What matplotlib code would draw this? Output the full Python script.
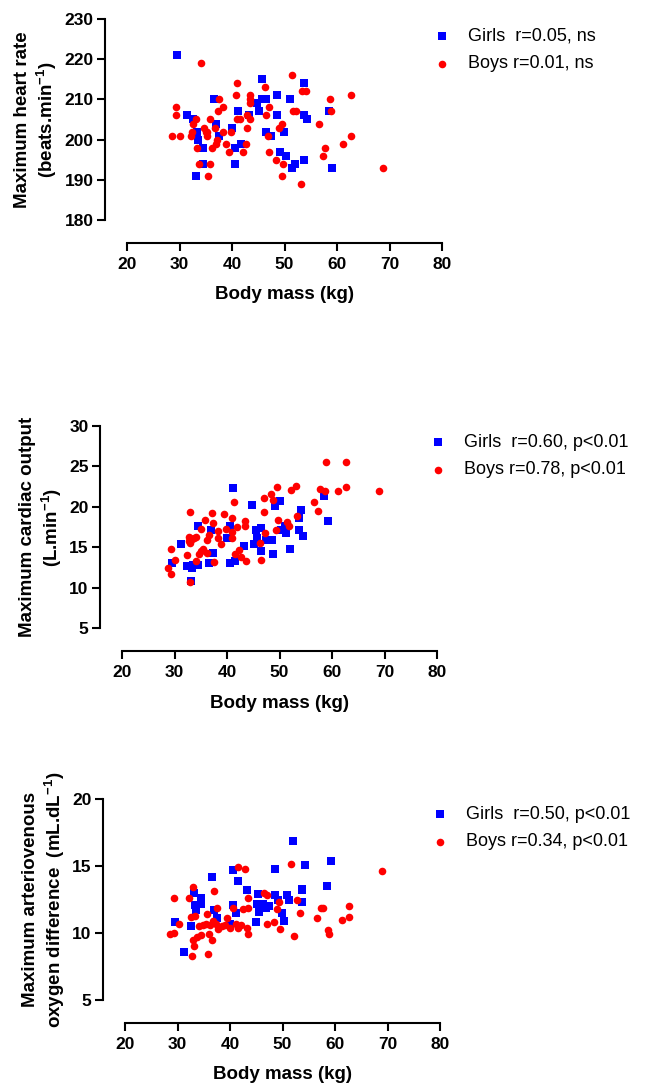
import matplotlib
matplotlib.use('Agg')
import matplotlib.pyplot as plt

# fonts
plt.rcParams['font.family'] = ['Liberation Sans', 'DejaVu Sans']
plt.rcParams['mathtext.fontset'] = 'custom'
plt.rcParams['mathtext.rm'] = 'Liberation Sans:bold'
plt.rcParams['mathtext.bf'] = 'Liberation Sans:bold'

# ---- panel 1: maximum heart rate ----
hr_girls_mass = [29.5, 31.4, 32.5, 33.4, 33.5, 33.2, 34.5, 34.5, 36.5, 36.9, 37.5, 40.0, 40.5,
                 40.5, 41.2, 41.7, 43.3, 44.8, 45.2, 45.7, 45.8, 46.4, 46.5, 47.5, 48.6, 48.6,
                 49.2, 49.9, 50.3, 51.0, 51.4, 52.0, 53.7, 53.8, 53.7, 54.3, 58.4, 59.1]
hr_girls = [221, 206, 205, 202, 200, 191, 198, 194, 210, 204, 201, 203, 198,
            194, 207, 199, 206, 209, 207, 210, 215, 210, 202, 201, 211, 206,
            197, 202, 196, 210, 193, 194, 214, 206, 195, 205, 207, 193]
hr_boys_mass = [28.6, 29.4, 29.3, 30.1, 34.0, 33.1, 32.3, 32.2, 32.6, 33.4, 33.7, 34.6, 35.0,
                35.2, 35.3, 35.5, 35.9, 35.9, 36.2, 36.8, 36.9, 37.2, 37.4, 37.6, 38.2, 38.2,
                38.9, 39.4, 39.8, 40.7, 40.9, 40.9, 41.6, 42.1, 42.6, 42.8, 42.8, 43.4, 43.5,
                43.5, 43.5, 46.3, 46.4, 46.9, 47.0, 47.1, 48.3, 49.0, 49.5, 49.7, 49.6, 51.5,
                51.7, 52.2, 53.1, 53.4, 54.1, 56.5, 57.3, 57.7, 58.7, 58.8, 61.2, 62.7, 62.7,
                68.8]
hr_boys = [201, 208, 206, 201, 219, 205, 202, 201, 204, 198, 194, 203, 202,
           201, 202, 191, 205, 194, 198, 203, 199, 200, 207, 210, 208, 202,
           199, 197, 202, 211, 214, 205, 205, 197, 199, 203, 206, 205, 211,
           210, 209, 213, 206, 201, 197, 208, 195, 203, 204, 194, 191, 216,
           207, 207, 189, 212, 212, 204, 196, 198, 210, 207, 199, 211, 201,
           193]

# ---- panel 2: maximum cardiac output ----
co_girls_mass = [29.5, 31.3, 32.4, 33.2, 33.4, 33.6, 34.5, 34.5, 36.5, 36.9, 37.4, 40.0, 40.5,
                 40.5, 41.2, 41.6, 43.2, 44.8, 45.2, 45.5, 45.8, 46.4, 46.5, 47.5, 48.6, 48.7,
                 49.2, 50.0, 50.3, 51.1, 51.3, 52.0, 53.7, 53.8, 54.0, 54.4, 58.5, 59.2]
co_girls = [13.0, 15.4, 12.7, 10.8, 12.4, 12.85, 17.6, 12.85, 13.0, 17.1, 14.3, 16.2, 17.6,
            13.1, 22.3, 13.3, 15.2, 20.2, 15.4, 17.1, 16.2, 14.5, 17.4, 15.9, 15.9, 14.1,
            20.1, 20.7, 17.1, 17.6, 16.7, 14.75, 18.6, 17.1, 19.6, 16.4, 21.3, 18.3]
co_boys_mass = [28.7, 29.3, 29.4, 30.1, 32.3, 32.7, 33.0, 32.85, 33.0, 32.9, 33.4, 33.7, 34.0,
                34.1, 34.6, 35.0, 35.1, 35.4, 35.9, 36.1, 36.1, 36.5, 37.2, 37.4, 37.6, 38.3,
                38.3, 38.9, 39.4, 39.9, 40.9, 41.0, 41.0, 41.3, 41.6, 41.9, 42.3, 42.6, 43.5,
                43.5, 43.6, 46.3, 46.5, 47.0, 47.1, 47.3, 48.4, 48.8, 49.5, 49.7, 49.4, 51.5,
                51.9, 52.2, 53.1, 53.3, 56.5, 57.3, 57.7, 58.7, 58.9, 61.2, 62.7, 62.7, 68.9]
co_boys = [12.4, 11.7, 14.75, 13.4, 14.0, 16.3, 19.4, 15.8, 15.5, 10.7, 16.0, 16.2, 16.3,
           13.3, 14.2, 17.3, 14.5, 14.8, 18.4, 15.9, 14.3, 16.5, 19.2, 18.0, 13.2, 17.0,
           16.2, 15.4, 19.1, 17.3, 16.9, 18.6, 16.2, 20.6, 14.1, 17.5, 14.7, 13.8, 18.2,
           17.6, 13.35, 15.5, 13.4, 21.1, 19.3, 16.8, 21.6, 20.9, 22.5, 18.4, 17.1, 18.1,
           17.6, 22.1, 22.6, 18.9, 20.6, 19.5, 22.2, 22.0, 25.5, 21.9, 25.5, 22.4, 22.0]

# ---- panel 3: maximum a-v O2 difference ----
av_girls_mass = [29.5, 31.3, 32.5, 33.1, 33.4, 33.6, 34.4, 34.4, 36.5, 37.0, 37.5, 40.0, 40.5,
                 40.6, 41.6, 41.2, 43.3, 44.9, 45.1, 45.4, 45.6, 46.3, 46.8, 47.5, 48.5, 48.6,
                 49.1, 49.9, 50.3, 50.9, 51.3, 52.0, 53.8, 53.8, 53.8, 54.3, 58.5, 59.2]
av_girls = [10.8, 8.6, 10.5, 13.0, 12.1, 11.7, 12.6, 12.2, 14.2, 11.7, 11.1, 10.7, 14.7,
            12.1, 13.9, 11.5, 13.2, 10.8, 12.2, 12.9, 11.6, 12.2, 11.9, 12.0, 14.75, 12.85,
            12.5, 11.5, 10.9, 12.85, 12.5, 16.9, 13.3, 13.2, 12.3, 15.1, 13.5, 15.4]
av_boys_mass = [28.6, 29.4, 29.3, 30.2, 32.2, 32.5, 32.8, 33.0, 33.0, 33.1, 33.4, 33.7, 34.0,
                34.5, 34.9, 35.4, 35.6, 35.9, 36.0, 36.1, 36.5, 36.7, 37.0, 37.3, 37.5, 37.8,
                38.4, 39.1, 39.5, 40.0, 40.6, 41.1, 41.5, 41.6, 42.1, 42.5, 42.8, 43.3, 43.5,
                43.5, 43.5, 46.4, 47.1, 47.1, 48.3, 48.9, 49.4, 49.5, 51.7, 52.1, 52.8, 53.4,
                56.5, 57.3, 57.8, 58.7, 58.8, 61.3, 62.7, 62.7, 68.9]
av_boys = [9.9, 10.0, 12.6, 10.7, 12.6, 11.2, 8.3, 13.4, 9.5, 9.05, 11.3, 9.7, 10.5,
           9.85, 10.6, 10.7, 11.4, 8.4, 9.9, 10.6, 9.5, 10.9, 13.1, 10.7, 11.9, 10.3,
           10.5, 10.6, 11.1, 10.35, 11.9, 10.7, 10.35, 14.95, 10.6, 11.8, 14.75, 10.35, 11.9,
           12.6, 9.9, 13.0, 12.85, 10.7, 10.8, 11.8, 12.3, 10.3, 15.15, 9.8, 12.5, 11.5,
           11.1, 11.9, 11.9, 10.2, 9.9, 11.0, 12.0, 11.2, 14.6]

# legend labels
hr_labels = ['Girls  r=0.05, ns', 'Boys r=0.01, ns']
co_labels = ['Girls  r=0.60, p<0.01', 'Boys r=0.78, p<0.01']
av_labels = ['Girls  r=0.50, p<0.01', 'Boys r=0.34, p<0.01']

W, H = 648.0, 1086.0


def panel(fig, rect, gx, gy, bx, by, ylim, yticks, ylabel, labels, ylab_x, leg_pos):
    # rect in pixels: left, top, right, bottom of the data area
    l, t, r, b = rect
    ax = fig.add_axes([l / W, 1 - b / H, (r - l) / W, (b - t) / H])
    ax.scatter(gx, gy, marker='s', s=32, color='#0000FF', linewidths=0, label=labels[0], clip_on=False)
    ax.scatter(bx, by, marker='o', s=30, color='#FF0000', linewidths=0, label=labels[1], clip_on=False)

    ax.set_xlim(20, 80)
    ax.set_ylim(*ylim)
    ax.set_xticks([20, 30, 40, 50, 60, 70, 80])
    ax.set_yticks(yticks)

    # graphpad-like offset axes
    for s in ['top', 'right']:
        ax.spines[s].set_visible(False)
    ax.spines['left'].set_position(('outward', 16))
    ax.spines['bottom'].set_position(('outward', 16.5))
    ax.spines['left'].set_linewidth(1.5)
    ax.spines['bottom'].set_linewidth(1.5)
    ax.tick_params(width=1.5, length=6, labelsize=12.5, color='black')
    ax.tick_params(axis='x', pad=4)
    ax.tick_params(axis='y', pad=2)
    for lab in ax.get_xticklabels() + ax.get_yticklabels():
        lab.set_fontweight('bold')

    ax.set_xlabel('Body mass (kg)', fontsize=13.5, fontweight='bold')
    ax.xaxis.set_label_coords(0.5, -0.33)
    ax.set_ylabel(ylabel, fontsize=13.5, fontweight='bold', linespacing=1.15)
    ax.yaxis.set_label_coords((ylab_x - l) / (r - l), 0.5)

    lx, ly = leg_pos
    ax.legend(loc='center left', bbox_to_anchor=(lx / W, 1 - ly / H), bbox_transform=fig.transFigure,
              frameon=False, fontsize=13, handlelength=1.0, handletextpad=0.95,
              labelspacing=0.6, borderpad=0, borderaxespad=0, scatterpoints=1)
    return ax


def main():
    fig = plt.figure(figsize=(W / 100, H / 100), dpi=100)

    panel(fig, (127, 19, 442, 220), hr_girls_mass, hr_girls, hr_boys_mass, hr_boys,
          (180, 230), [180, 190, 200, 210, 220, 230],
          'Maximum heart rate\n(beats.min$^{-1}$)', hr_labels, 59, (433, 50))

    panel(fig, (122, 426, 437, 628), co_girls_mass, co_girls, co_boys_mass, co_boys,
          (5, 30), [5, 10, 15, 20, 25, 30],
          'Maximum cardiac output\n(L.min$^{-1}$)', co_labels, 64, (429, 456))

    panel(fig, (125, 799, 440, 1000), av_girls_mass, av_girls, av_boys_mass, av_boys,
          (5, 20), [5, 10, 15, 20],
          'Maximum arteriovenous\noxygen difference  (mL.dL$^{-1}$)', av_labels, 67, (431, 828))

    fig.savefig('out.png', dpi=100)


if __name__ == '__main__':
    main()
